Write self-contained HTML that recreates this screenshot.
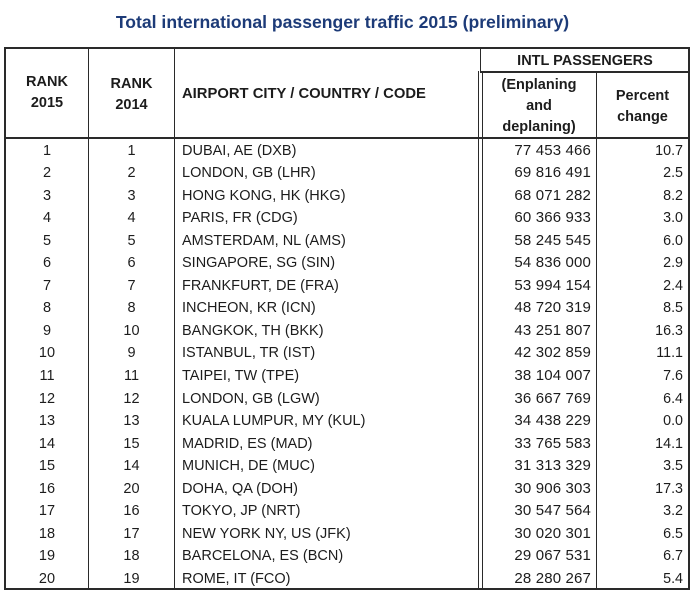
<!DOCTYPE html>
<html>
<head>
<meta charset="utf-8">
<style>
  html, body { margin: 0; padding: 0; background: #fff; }
  #c { position: relative; width: 694px; height: 594px; overflow: hidden; background: #fff;
       font-family: "Liberation Sans", Arial, sans-serif; color: #1c1c1c; }
  .ln { position: absolute; background: #2a2a2a; }
  .t { position: absolute; white-space: nowrap; }
  .title { left: 0; width: 685px; top: 12px; text-align: center; font-weight: bold; font-size: 17.6px; color: #1d3b78; line-height: 20px; }
  .h { font-weight: bold; font-size: 14.5px; text-align: center; }
  .r { position: absolute; left: 0; width: 694px; height: 22.55px; line-height: 22.55px; font-size: 14.5px; }
  .r span { position: absolute; top: 0; white-space: nowrap; }
  .c1 { left: 6px; width: 82px; text-align: center; }
  .c2 { left: 89px; width: 85px; text-align: center; }
  .c3 { left: 182px; }
  .c4 { right: 103px; font-size: 15px; letter-spacing: 0.15px; }
  .c5 { right: 11px; font-size: 14.3px; }
</style>
</head>
<body>
<div id="c">
  <div class="t title">Total international passenger traffic 2015 (preliminary)</div>

  <!-- outer borders -->
  <div class="ln" style="left:4px;top:47px;width:686px;height:2px;"></div>
  <div class="ln" style="left:4px;top:47px;width:2px;height:543px;"></div>
  <div class="ln" style="left:688px;top:47px;width:2px;height:543px;"></div>
  <div class="ln" style="left:4px;top:588px;width:686px;height:2px;"></div>
  <!-- header bottom -->
  <div class="ln" style="left:4px;top:137px;width:686px;height:1.6px;"></div>
  <!-- INTL row bottom -->
  <div class="ln" style="left:480px;top:71px;width:209px;height:1.5px;"></div>
  <!-- column lines -->
  <div class="ln" style="left:87.5px;top:47px;width:1.5px;height:543px;"></div>
  <div class="ln" style="left:173.5px;top:47px;width:1.5px;height:543px;"></div>
  <div class="ln" style="left:479.5px;top:47px;width:1.5px;height:26px;"></div>
  <div class="ln" style="left:478px;top:71px;width:1.3px;height:519px;"></div>
  <div class="ln" style="left:481.5px;top:71px;width:1.3px;height:519px;"></div>
  <div class="ln" style="left:595.5px;top:71px;width:1.5px;height:519px;"></div>

  <!-- header texts -->
  <div class="t h" style="left:6px;width:82px;top:72px;line-height:20.5px;">RANK<br>2015</div>
  <div class="t h" style="left:89px;width:85px;top:74px;line-height:21px;">RANK<br>2014</div>
  <div class="t h" style="left:182px;top:84px;line-height:20px;font-size:14.8px;">AIRPORT CITY / COUNTRY / CODE</div>
  <div class="t h" style="left:481px;width:208px;top:50.5px;line-height:20px;">INTL PASSENGERS</div>
  <div class="t h" style="left:482px;width:114px;top:75px;line-height:21px;">(Enplaning<br>and<br>deplaning)</div>
  <div class="t h" style="left:597px;width:91px;top:86px;line-height:21px;">Percent<br>change</div>

  <!-- rows -->
  <div class="r" style="top:139.5px;"><span class="c1">1</span><span class="c2">1</span><span class="c3">DUBAI, AE (DXB)</span><span class="c4">77 453 466</span><span class="c5">10.7</span></div>
  <div class="r" style="top:162.05px;"><span class="c1">2</span><span class="c2">2</span><span class="c3">LONDON, GB (LHR)</span><span class="c4">69 816 491</span><span class="c5">2.5</span></div>
  <div class="r" style="top:184.6px;"><span class="c1">3</span><span class="c2">3</span><span class="c3">HONG KONG, HK (HKG)</span><span class="c4">68 071 282</span><span class="c5">8.2</span></div>
  <div class="r" style="top:207.15px;"><span class="c1">4</span><span class="c2">4</span><span class="c3">PARIS, FR (CDG)</span><span class="c4">60 366 933</span><span class="c5">3.0</span></div>
  <div class="r" style="top:229.7px;"><span class="c1">5</span><span class="c2">5</span><span class="c3">AMSTERDAM, NL (AMS)</span><span class="c4">58 245 545</span><span class="c5">6.0</span></div>
  <div class="r" style="top:252.25px;"><span class="c1">6</span><span class="c2">6</span><span class="c3">SINGAPORE, SG (SIN)</span><span class="c4">54 836 000</span><span class="c5">2.9</span></div>
  <div class="r" style="top:274.8px;"><span class="c1">7</span><span class="c2">7</span><span class="c3">FRANKFURT, DE (FRA)</span><span class="c4">53 994 154</span><span class="c5">2.4</span></div>
  <div class="r" style="top:297.35px;"><span class="c1">8</span><span class="c2">8</span><span class="c3">INCHEON, KR (ICN)</span><span class="c4">48 720 319</span><span class="c5">8.5</span></div>
  <div class="r" style="top:319.9px;"><span class="c1">9</span><span class="c2">10</span><span class="c3">BANGKOK, TH (BKK)</span><span class="c4">43 251 807</span><span class="c5">16.3</span></div>
  <div class="r" style="top:342.45px;"><span class="c1">10</span><span class="c2">9</span><span class="c3">ISTANBUL, TR (IST)</span><span class="c4">42 302 859</span><span class="c5">11.1</span></div>
  <div class="r" style="top:365px;"><span class="c1">11</span><span class="c2">11</span><span class="c3">TAIPEI, TW (TPE)</span><span class="c4">38 104 007</span><span class="c5">7.6</span></div>
  <div class="r" style="top:387.55px;"><span class="c1">12</span><span class="c2">12</span><span class="c3">LONDON, GB (LGW)</span><span class="c4">36 667 769</span><span class="c5">6.4</span></div>
  <div class="r" style="top:410.1px;"><span class="c1">13</span><span class="c2">13</span><span class="c3">KUALA LUMPUR, MY (KUL)</span><span class="c4">34 438 229</span><span class="c5">0.0</span></div>
  <div class="r" style="top:432.65px;"><span class="c1">14</span><span class="c2">15</span><span class="c3">MADRID, ES (MAD)</span><span class="c4">33 765 583</span><span class="c5">14.1</span></div>
  <div class="r" style="top:455.2px;"><span class="c1">15</span><span class="c2">14</span><span class="c3">MUNICH, DE (MUC)</span><span class="c4">31 313 329</span><span class="c5">3.5</span></div>
  <div class="r" style="top:477.75px;"><span class="c1">16</span><span class="c2">20</span><span class="c3">DOHA, QA (DOH)</span><span class="c4">30 906 303</span><span class="c5">17.3</span></div>
  <div class="r" style="top:500.3px;"><span class="c1">17</span><span class="c2">16</span><span class="c3">TOKYO, JP (NRT)</span><span class="c4">30 547 564</span><span class="c5">3.2</span></div>
  <div class="r" style="top:522.85px;"><span class="c1">18</span><span class="c2">17</span><span class="c3">NEW YORK NY, US (JFK)</span><span class="c4">30 020 301</span><span class="c5">6.5</span></div>
  <div class="r" style="top:545.4px;"><span class="c1">19</span><span class="c2">18</span><span class="c3">BARCELONA, ES (BCN)</span><span class="c4">29 067 531</span><span class="c5">6.7</span></div>
  <div class="r" style="top:567.95px;"><span class="c1">20</span><span class="c2">19</span><span class="c3">ROME, IT (FCO)</span><span class="c4">28 280 267</span><span class="c5">5.4</span></div>
</div>
</body>
</html>
